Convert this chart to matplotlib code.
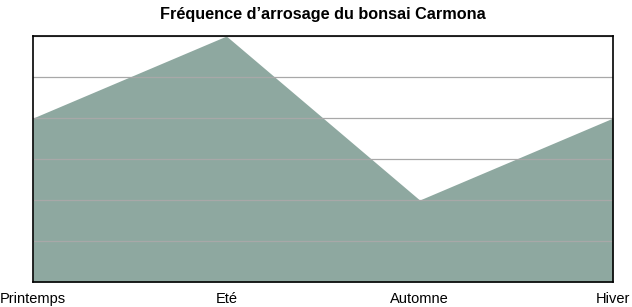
import matplotlib
matplotlib.use("Agg")
import matplotlib.pyplot as plt

# data
seasons = ["Printemps", "Eté", "Automne", "Hiver"]
waterings = [4, 6, 2, 4]

plt.rcParams["font.family"] = ["Liberation Sans", "DejaVu Sans"]

fig = plt.figure(figsize=(6.32, 3.07), dpi=100)
ax = fig.add_axes([0.0522, 0.0814, 0.9177, 0.8013])

x = list(range(len(seasons)))
ax.fill_between(x, waterings, 0, color="#8ea8a0", linewidth=0, zorder=1)

ax.set_xlim(0, len(seasons) - 1)
ax.set_ylim(0, 6)
ax.set_yticks(range(0, 7))
ax.set_yticklabels([])
ax.tick_params(axis="y", length=0)
ax.grid(axis="y", color="#a8a8a8", linewidth=0.9, zorder=2)
ax.set_axisbelow(False)

ax.set_xticks(x)
ax.set_xticklabels(seasons, fontsize=10.5)
ax.tick_params(axis="x", length=0, pad=7)

for s in ax.spines.values():
    s.set_linewidth(1.2)
    s.set_color("black")
    s.set_zorder(3)

ax.set_title("Fréquence d’arrosage du bonsai Carmona", fontsize=11.7,
             fontweight="bold", pad=12)

fig.savefig("out.png", dpi=100)
